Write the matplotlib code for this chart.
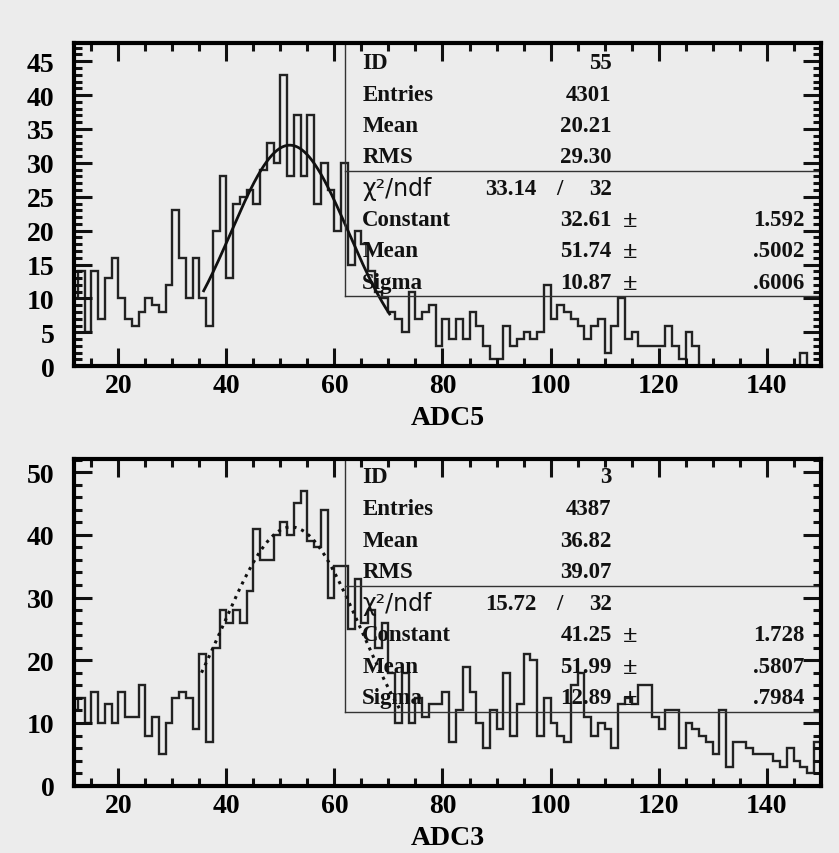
import numpy as np
import matplotlib
matplotlib.use("Agg")
import matplotlib.pyplot as plt

# bin edges (ADC channel), 1.25 wide
edges = np.arange(11.25, 150.01, 1.25)

adc5_counts = [10, 14, 5, 14, 7, 13, 16, 10, 7, 6, 8, 10, 9, 8, 12, 23, 16, 10, 16, 10,
               6, 20, 28, 13, 24, 25, 26, 24, 29, 33, 30, 43, 28, 37, 28, 37, 24, 30, 26, 20,
               30, 15, 20, 18, 14, 11, 10, 8, 7, 5, 11, 7, 8, 9, 3, 7, 4, 7, 4, 8,
               6, 3, 1, 1, 6, 3, 4, 5, 4, 5, 12, 7, 9, 8, 7, 6, 4, 6, 7, 2,
               6, 10, 4, 5, 3, 3, 3, 3, 6, 3, 1, 5, 3, 0, 0, 0, 0, 0, 0, 0,
               0, 0, 0, 0, 0, 0, 0, 0, 2, 0, 0]

adc3_counts = [12, 14, 10, 15, 10, 13, 10, 15, 11, 11, 16, 8, 11, 5, 10, 14, 15, 14, 9, 21,
               7, 22, 28, 26, 28, 26, 31, 41, 36, 36, 40, 42, 40, 45, 47, 39, 38, 44, 30, 35,
               35, 25, 33, 26, 28, 22, 26, 18, 10, 18, 10, 14, 11, 13, 13, 15, 7, 12, 19, 15,
               10, 6, 12, 9, 18, 8, 13, 21, 20, 8, 14, 10, 8, 7, 16, 18, 11, 8, 10, 9,
               6, 13, 14, 13, 16, 16, 11, 9, 12, 12, 6, 10, 9, 8, 7, 5, 12, 3, 7, 7,
               6, 5, 5, 5, 4, 3, 6, 4, 3, 2, 7]

panels = [
    dict(counts=adc5_counts, xlabel="ADC5", ymax=47.75, ymajor=5, yminor=1,
         stats=[("ID", "55"), ("Entries", "4301"), ("Mean", "20.21"), ("RMS", "29.30")],
         chi=("33.14", "32"),
         fit=[("Constant", "32.61", "1.592"), ("Mean", "51.74", ".5002"), ("Sigma", "10.87", ".6006")],
         par=(32.61, 51.74, 10.87), frange=(35.8, 70.2), fitstyle="-",
         divider=0.602, boxbottom=0.216, top_row=0.938),
    dict(counts=adc3_counts, xlabel="ADC3", ymax=52.1, ymajor=10, yminor=2,
         stats=[("ID", "3"), ("Entries", "4387"), ("Mean", "36.82"), ("RMS", "39.07")],
         chi=("15.72", "32"),
         fit=[("Constant", "41.25", "1.728"), ("Mean", "51.99", ".5807"), ("Sigma", "12.89", ".7984")],
         par=(41.25, 51.99, 12.89), frange=(35.4, 72.0), fitstyle=":",
         divider=0.611, boxbottom=0.226, top_row=0.945),
]

bg = "#ececec"
fig = plt.figure(figsize=(8.39, 8.54), dpi=100, facecolor=bg)
axes_pos = [[0.0882, 0.570, 0.890, 0.379], [0.0882, 0.0788, 0.890, 0.3826]]
serif = "Liberation Serif"

for pos, p in zip(axes_pos, panels):
    ax = fig.add_axes(pos)
    ax.set_facecolor(bg)
    ax.stairs(p["counts"], edges, color="#222222", lw=1.7)

    C, m, s = p["par"]
    xf = np.linspace(p["frange"][0], p["frange"][1], 300)
    ax.plot(xf, C * np.exp(-0.5 * ((xf - m) / s) ** 2), color="#111111",
            lw=2.0 if p["fitstyle"] == "-" else 2.2, ls=p["fitstyle"])

    ax.set_xlim(11.8, 150)
    ax.set_ylim(0, p["ymax"])
    ax.set_xticks([20, 40, 60, 80, 100, 120, 140])
    ax.set_xticks(np.arange(15, 150, 5), minor=True)
    ax.set_yticks(np.arange(0, p["ymax"], p["ymajor"]))
    ax.set_yticks(np.arange(0, p["ymax"], p["yminor"]), minor=True)
    ax.tick_params(which="both", direction="in", top=True, right=True, width=2.2, color="#111111")
    ax.tick_params(which="major", length=13, labelsize=20)
    ax.tick_params(axis="x", which="major", pad=5)
    ax.tick_params(axis="y", which="major", pad=14)
    ax.tick_params(which="minor", length=6)
    for lab in ax.get_xticklabels() + ax.get_yticklabels():
        lab.set_fontfamily(serif)
        lab.set_fontweight("bold")
    for sp in ax.spines.values():
        sp.set_linewidth(3)
    ax.set_xlabel(p["xlabel"], fontfamily=serif, fontweight="bold", fontsize=20, labelpad=5)

    # statistics box
    bx = 0.363
    ax.plot([bx, bx], [p["boxbottom"], 1], transform=ax.transAxes, color="#333333", lw=1)
    ax.plot([bx, 1], [p["divider"], p["divider"]], transform=ax.transAxes, color="#333333", lw=1)
    ax.plot([bx, 1], [p["boxbottom"], p["boxbottom"]], transform=ax.transAxes, color="#333333", lw=1)

    top_row = p["top_row"]
    step = (top_row - (p["boxbottom"] + 0.043)) / 7
    rows = [top_row - i * step for i in range(8)]
    tk = dict(transform=ax.transAxes, fontfamily=serif, fontweight="bold", fontsize=16.5,
              va="center", color="#111111")
    for (name, val), y in zip(p["stats"], rows[:4]):
        ax.text(0.386, y, name, ha="left", **tk)
        ax.text(0.720, y, val, ha="right", **tk)
    ax.text(0.386, rows[4], "χ²/ndf", ha="left", transform=ax.transAxes,
            fontfamily="DejaVu Sans", fontsize=17, va="center", color="#111111")
    ax.text(0.619, rows[4], p["chi"][0], ha="right", **tk)
    ax.text(0.650, rows[4], "/", ha="center", **tk)
    ax.text(0.720, rows[4], p["chi"][1], ha="right", **tk)
    for (name, val, err), y in zip(p["fit"], rows[5:]):
        ax.text(0.386, y, name, ha="left", **tk)
        ax.text(0.720, y, val, ha="right", **tk)
        ax.text(0.745, y, "±", ha="center", **dict(tk, fontsize=19))
        ax.text(0.978, y, err, ha="right", **tk)

fig.savefig("out.png", dpi=100, facecolor=bg)
